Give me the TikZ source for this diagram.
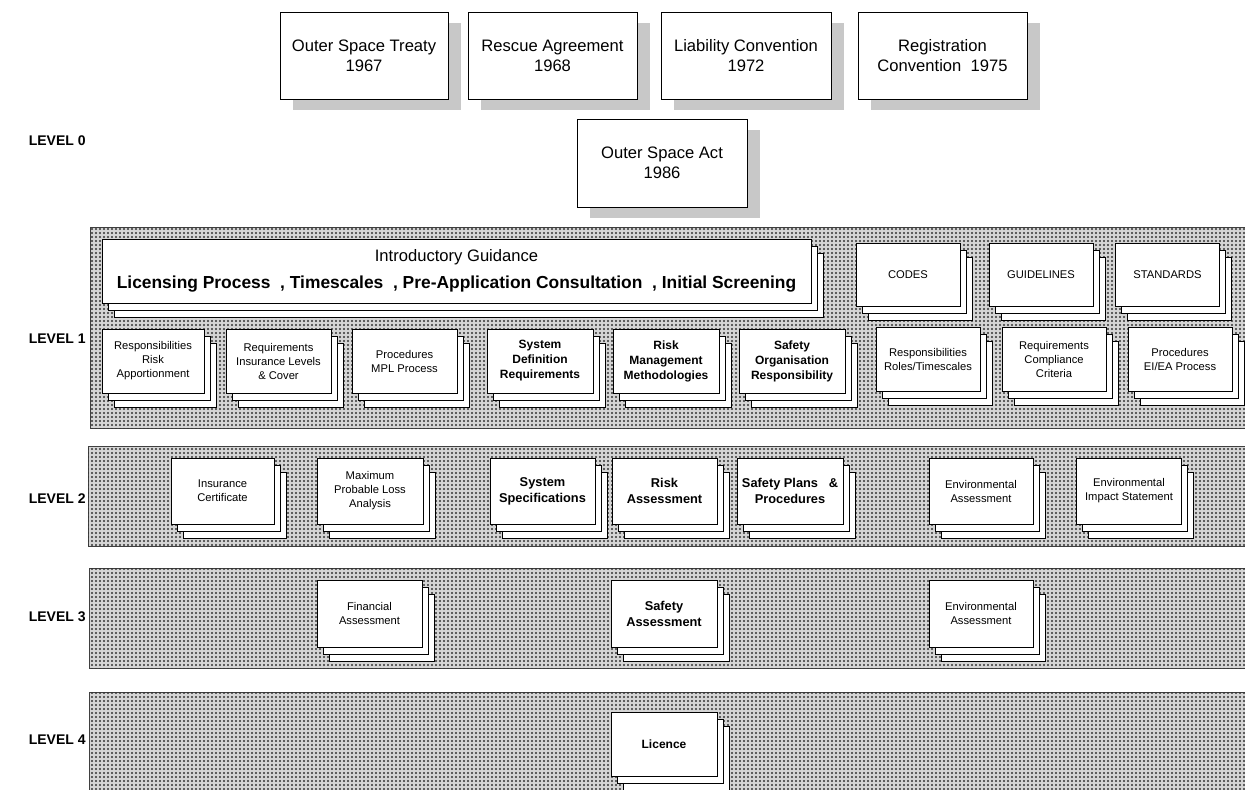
\documentclass[tikz,border=0pt]{standalone}
\usepackage{fontspec}
\setmainfont{Liberation Sans}
\usetikzlibrary{patterns.meta}
\definecolor{shgray}{HTML}{C8C8C8}
\newcommand\docstack[7]{%
  \pgfmathsetmacro\xa{#2-#4/2}\pgfmathsetmacro\xb{#2+#4/2}%
  \pgfmathsetmacro\ya{#3-#5/2}\pgfmathsetmacro\yb{#3+#5/2}%
  \draw[sheet] (\xa+12,\ya+14) rectangle (\xb+12,\yb+14);
  \draw[sheet] (\xa+6,\ya+7) rectangle (\xb+6,\yb+7);
  \node[frontbox, #6, minimum width=#4*0.5pt, minimum height=#5*0.5pt] (#1) at (#2,#3) {#7};
}
\begin{document}
\begin{tikzpicture}[x=0.5pt,y=-0.5pt,
  band/.style={draw=black!75, line width=0.5pt, fill=gray!33,
    postaction={pattern={Dots[distance=2pt, radius=0.58pt]}, pattern color=black!80}},
  sheet/.style={draw=black, fill=white, line width=0.5pt},
  frontbox/.style={draw=black, fill=white, line width=0.5pt, align=center, inner sep=1pt},
  topbox/.style={draw=black, fill=white, line width=0.5pt, align=center,
    font=\fontsize{8.3pt}{10pt}\selectfont,
    preaction={fill=shgray, transform canvas={xshift=6.5pt, yshift=-5.5pt}}},
  sm/.style={font=\fontsize{5.6pt}{7pt}\selectfont},
  smb/.style={font=\bfseries\fontsize{6pt}{7.5pt}\selectfont},
  mb/.style={font=\bfseries\fontsize{6.4pt}{8pt}\selectfont},
  lvl/.style={font=\bfseries\fontsize{7pt}{8pt}\selectfont, anchor=east, inner sep=0pt}
]
\useasboundingbox (0,0) rectangle (1245,789);

% ---- Level 0 treaties
\node[topbox, minimum width=84pt, minimum height=43.5pt] (ost) at (364,55.5) {Outer Space Treaty\\1967};
\node[topbox, minimum width=84.5pt, minimum height=43.5pt] (rescue) at (552.5,55.5) {Rescue Agreement\\1968};
\node[topbox, minimum width=85pt, minimum height=43.5pt] (liab) at (746,55.5) {Liability Convention\\1972};
\node[topbox, minimum width=84.5pt, minimum height=43.5pt] (reg) at (942.5,55.5) {Registration\\Convention\ \ 1975};
\node[topbox, minimum width=85pt, minimum height=44pt] (osa) at (662,163) {Outer Space Act\\1986};

% ---- bands
\begin{scope}
\clip (0,0) rectangle (1245,789);
\path[band] (90,227) rectangle (1246,428);
\path[band] (88,446) rectangle (1246,546);
\path[band] (89,568) rectangle (1246,668);
\path[band] (89,692) rectangle (1246,800);
\end{scope}

% ---- level labels
\node[lvl] (l0) at (86,141) {LEVEL 0};
\node[lvl] (l1) at (86,339) {LEVEL 1};
\node[lvl] (l2) at (86,499) {LEVEL 2};
\node[lvl] (l3) at (86,617) {LEVEL 3};
\node[lvl] (l4) at (86,740) {LEVEL 4};

% ---- Level 1
\docstack{intro}{456.5}{271}{709}{64}{}{{\fontsize{8.3pt}{10pt}\selectfont Introductory Guidance}\\[1.2pt]
  {\bfseries\fontsize{8.7pt}{10pt}\selectfont Licensing Process\ \ , Timescales\ \ , Pre-Application Consultation\ \ , Initial Screening}}
\docstack{codes}{908}{274.5}{104}{63}{sm}{CODES}
\docstack{guide}{1041}{274.5}{104}{63}{sm}{GUIDELINES}
\docstack{stand}{1167.5}{274.5}{104}{63}{sm}{STANDARDS}

\docstack{respR}{153}{361}{102}{64}{sm}{Responsibilities\\Risk\\Apportionment}
\docstack{reqI}{278.5}{361}{105}{64}{sm}{Requirements\\Insurance Levels\\\& Cover}
\docstack{procM}{404.5}{361}{105}{64}{sm}{Procedures\\MPL Process}
\docstack{sysdef}{540}{361}{106}{64}{smb}{System\\Definition\\Requirements}
\docstack{riskm}{666}{361}{106}{64}{smb}{Risk\\Management\\Methodologies}
\docstack{safeorg}{792}{361}{106}{64}{smb}{Safety\\Organisation\\Responsibility}
\docstack{respE}{928}{359}{104}{64}{sm}{Responsibilities\\Roles/Timescales}
\docstack{reqE}{1054}{359}{104}{64}{sm}{Requirements\\Compliance\\Criteria}
\docstack{procE}{1180}{359}{104}{64}{sm}{Procedures\\EI/EA Process}

% ---- Level 2
\docstack{inscert}{222.5}{491}{103}{66}{sm}{Insurance\\Certificate}
\docstack{mpl}{370}{491}{106}{66}{sm}{Maximum\\Probable Loss\\Analysis}
\docstack{sysspec}{542.5}{491}{105}{66}{mb}{System\\Specifications}
\docstack{riska}{664.5}{491}{105}{66}{mb}{Risk\\Assessment}
\docstack{safeplan}{790}{491}{106}{66}{mb}{Safety Plans\ \ \ \&\\Procedures}
\docstack{envA2}{981}{491}{104}{66}{sm}{Environmental\\Assessment}
\docstack{eis}{1129}{491}{105}{66}{sm}{Environmental\\Impact Statement}

% ---- Level 3
\docstack{finA}{369.5}{613.5}{105}{67}{sm}{Financial\\Assessment}
\docstack{safeA}{664}{613.5}{106}{67}{mb}{Safety\\Assessment}
\docstack{envA3}{981}{613.5}{104}{67}{sm}{Environmental\\Assessment}

% ---- Level 4
\docstack{licence}{664}{744}{106}{64}{smb}{Licence}
\end{tikzpicture}
\end{document}
